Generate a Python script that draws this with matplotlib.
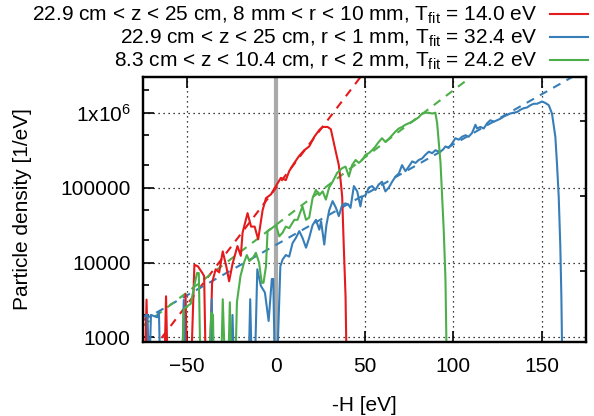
import numpy as np
import matplotlib
matplotlib.use('Agg')
import matplotlib.pyplot as plt
from matplotlib.ticker import FixedLocator, FixedFormatter, NullFormatter

plt.rcParams['font.family'] = ['Liberation Sans', 'DejaVu Sans']
plt.rcParams['mathtext.fontset'] = 'custom'
plt.rcParams['mathtext.rm'] = 'Liberation Sans'
plt.rcParams['mathtext.it'] = 'Liberation Sans'
FS = 15

LOW = 300  # points that fall below the axis

# --- data (x = -H in eV, y = particle density in 1/eV)
red_x = [-74, -73, -72, -63, -62, -61, -52, -51, -50, -48, -46, -44, -41.5, -40.5, -39.5,
         -37.5, -36, -34, -32, -30, -28, -26.4, -24.5, -21.7, -19.8, -18.8, -16, -14, -12,
         -10, -7.5, -5.6, -2.8, 0, 2.8, 5.6, 7.5, 10.4, 13, 16, 18.8, 21.7, 24.5, 26.4,
         29.2, 31, 33.6, 35.5, 36.5, 37.4, 38.3, 39.3, 40]
red_y = [LOW, 3200, LOW, LOW, 3550, LOW, LOW, 3800, LOW, LOW, 9330, 8900, 7240, 6600, LOW,
         LOW, 5370, 8130, 7400, 14100, 8900, 5620, 9550, 16600, 12300, 25100, 45700, 30200, 30200,
         20400, 50100, 72400, 81300, 105000, 135000, 126000, 166000, 214000, 263000, 316000, 355000, 479000, 589000, 646000,
         646000, 603000, 316000, 200000, 126000, 75900, 16600, 3550, LOW]

blue_x = [-75, -73, -72.5, -71.5, -70.5, -67, -66, -65.2, -53, -52, -51, -37, -36.2, -35.5,
          -25.5, -24.5, -23.5, -15.5, -14.5, -13.5, -12, -10.5, -8.5, -6.2, -4.1, -2.3, -1.5, -0.5,
          0.5, 2.5, 3.8, 5.6, 7.5, 9.4, 11.3, 13.2, 15, 17, 18.8, 20.7, 22.6, 24.5, 25.5,
          27.3, 28.5, 30.1, 32, 33.9, 35.5, 37.4, 39.3, 41, 42.1, 44, 45.9, 47.7, 48.7,
          50.6, 52.4, 54.3, 56.2, 58, 59.9, 61.8, 63.7, 65.6, 67.5, 69.4, 71.2, 73.1, 75,
          76.9, 78.8, 80.6, 82.5, 84.4, 86.3, 88.2, 90, 92, 94, 95.7, 97.5, 99.4, 101.3,
          103.2, 105.1, 107, 108.8, 110.7, 112.6, 113.5, 115.4, 117.3, 119.2, 121, 123, 124.8,
          126.7, 128.6, 130.5, 132.3, 134.2, 136.1, 138, 139.8, 141.7, 143.6, 145.5, 147.4,
          150.2, 152.1, 154, 155.8, 157.7, 158.6, 159.6, 160.5, 161.1, 161.7]
blue_y = [1860, 2000, 2000, LOW, 2000, 1860, 2140, LOW, LOW, 3160, LOW, LOW, 3240, LOW,
          LOW, 2000, LOW, LOW, 3240, LOW, LOW, 8130, 4900, 3980, 1660, 6030, 6030, LOW,
          LOW, 8900, 11000, 12600, 12000, 18200, 21400, 26300, 21400, 15800, 21400, 31600, 37200, 27500, 35500,
          17400, 31600, 50100, 66100, 53700, 41700, 58900, 61700, 58900, 53700, 105000, 89100, 56200, 75900,
          79400, 100000, 105000, 93300, 110000, 120000, 89100, 100000, 120000, 141000, 155000, 200000, 166000, 191000,
          224000, 214000, 234000, 245000, 275000, 302000, 288000, 316000, 302000, 316000, 355000, 339000, 389000, 457000,
          437000, 479000, 501000, 479000, 537000, 692000, 617000, 646000, 617000, 724000, 794000, 759000, 794000,
          832000, 891000, 933000, 977000, 1000000, 1023000, 1096000, 1148000, 1175000, 1259000, 1318000, 1318000,
          1413000, 1349000, 1259000, 977000, 479000, 214000, 75900, 16600, 3550, LOW]

green_x = [-53, -52, -50, -48, -46, -44.5, -43.5, -42.5, -38, -36.5, -35.5, -35, -31, -30,
           -28.5, -27, -26, -25, -23, -22, -20, -18, -16.4, -15, -13, -11.3, -9.5, -8, -7,
           -5.6, -4.7, -2.8, 0, 1.9, 3.8, 5.6, 7.5, 10.4, 12.2, 15, 17, 18.8, 20.7, 22.6,
           24.5, 26.4, 28.2, 30, 32, 34.6, 37.4, 39.3, 41.2, 43, 45, 46.8, 48.7, 50.6, 52.4,
           54.3, 56.2, 58, 59.9, 61.8, 63.7, 65.6, 67.5, 69.4, 71.2, 73.1, 75, 76.9, 78.8,
           80.6, 82.5, 84.4, 86.3, 88.2, 90, 91, 92.9, 94.7, 95.7, 96.5]
green_y = [LOW, 2400, 2630, 2820, 5000, 7240, 7240, LOW, LOW, 2140, 2000, LOW, LOW, 3240,
           LOW, LOW, 2950, LOW, LOW, 2950, 6600, 10000, 12600, 10500, 11500, 13500, 10000, 5370, 5370,
           8900, 26300, 28200, 31600, 22400, 25100, 30200, 28800, 37200, 37200, 56200, 37200, 39800, 72400, 93300,
           79400, 89100, 69200, 100000, 120000, 158000, 182000, 191000, 141000, 200000, 234000, 214000, 234000, 275000, 288000,
           316000, 355000, 407000, 457000, 407000, 447000, 501000, 562000, 617000, 646000, 692000, 724000, 759000, 813000,
           871000, 977000, 1000000, 1000000, 977000, 1000000, 724000, 214000, 27500, 5890, LOW]

# exponential fits n = A exp(x / T)
T_fit = {'red': 14.0, 'blue': 32.4, 'green': 24.2}
A_fit = {'red': 99000, 'blue': 17200, 'green': 31800}

labels = {
    'red': '22.9 cm < z < 25 cm, 8 mm < r < 10 mm, T$_{\\mathrm{fit}}$ = 14.0 eV',
    'blue': '22.9 cm < z < 25 cm, r < 1 mm, T$_{\\mathrm{fit}}$ = 32.4 eV',
    'green': '8.3 cm < z < 10.4 cm, r < 2 mm, T$_{\\mathrm{fit}}$ = 24.2 eV',
}
colors = {'red': '#e41a1c', 'blue': '#377eb8', 'green': '#4daf4a'}
series = {'red': (red_x, red_y), 'blue': (blue_x, blue_y), 'green': (green_x, green_y)}

XMIN, XMAX = -75, 175
YMIN, YMAX = 870, 3.0e6

fig = plt.figure(figsize=(5.94, 4.16), dpi=100)
ax = fig.add_axes([143/594, 74/416, 443/594, 265/416])

ax.axvline(0, color='#aaaaaa', lw=3, zorder=2)

xf = np.linspace(XMIN, XMAX, 400)
handles = []
for k in ['red', 'blue', 'green']:
    x, y = series[k]
    h, = ax.plot(x, y, color=colors[k], lw=1.5, label=labels[k], zorder=3)
    ax.plot(xf, A_fit[k] * np.exp(xf / T_fit[k]), color=colors[k], lw=1.5,
            dashes=(4, 3.3), zorder=2.5)
    handles.append(h)

ax.set_yscale('log')
ax.set_xlim(XMIN, XMAX)
ax.set_ylim(YMIN, YMAX)

ax.xaxis.set_major_locator(FixedLocator([-50, 0, 50, 100, 150]))
ax.yaxis.set_major_locator(FixedLocator([1e3, 1e4, 1e5, 1e6]))
ax.yaxis.set_major_formatter(FixedFormatter(['1000', '10000', '100000', '1x10$^{6}$']))
ax.yaxis.set_minor_locator(FixedLocator([2e3, 5e3, 2e4, 5e4, 2e5, 5e5, 2e6]))
ax.yaxis.set_minor_formatter(NullFormatter())
ax.tick_params(which='both', direction='in', top=True, right=True, labelsize=FS, width=1.2)
ax.tick_params(which='major', length=8)
ax.tick_params(which='minor', length=4)
ax.tick_params(axis='y', pad=9)
ax.tick_params(axis='x', pad=11)
ax.set_axisbelow(True)
ax.grid(True, which='major', color='black', lw=0.9, ls=(0, (1, 3)))

# extra short ticks on the right side
ax2 = ax.twinx()
ax2.set_yscale('log')
ax2.set_ylim(YMIN, YMAX)
ax2.yaxis.set_major_locator(FixedLocator([7.8e3, 7.8e4, 7.8e5]))
ax2.yaxis.set_major_formatter(NullFormatter())
ax2.yaxis.set_minor_locator(FixedLocator([]))
ax2.tick_params(direction='in', length=4, width=1.2)

for a in (ax, ax2):
    for s in a.spines.values():
        s.set_linewidth(1.6)

ax.set_xlabel('-H [eV]', fontsize=FS, labelpad=14)
ax.set_ylabel('Particle density [1/eV]', fontsize=FS, labelpad=20)

fig.legend(handles=handles, loc='upper right', bbox_to_anchor=(596/594, 1.008),
           markerfirst=False, frameon=False, fontsize=FS, handlelength=1.8,
           handletextpad=0.6, labelspacing=0.08, borderaxespad=0)

fig.savefig('out.png', dpi=100)
